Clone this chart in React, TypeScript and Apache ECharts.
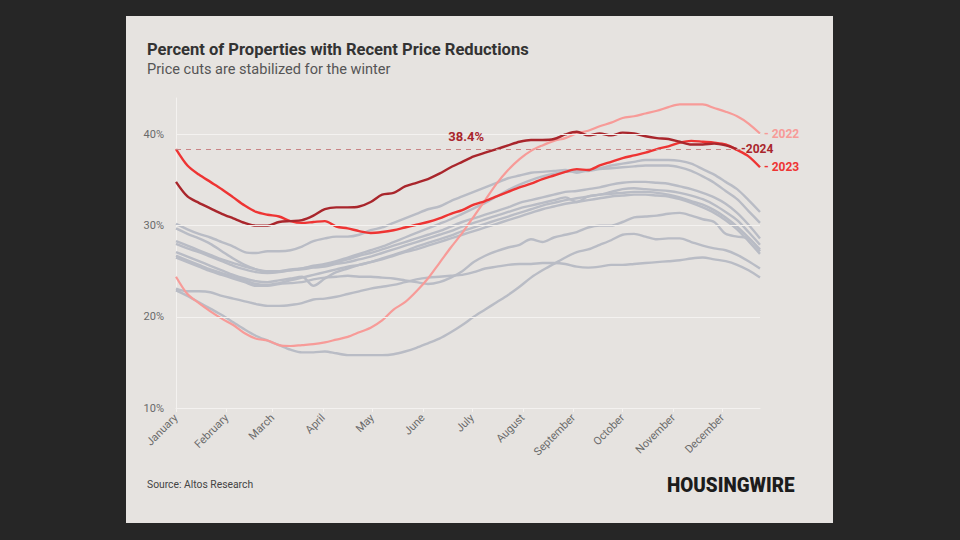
import React, { useEffect, useRef } from "react";
import * as echarts from "echarts";

const MONTHS = ["January", "February", "March", "April", "May", "June", "July", "August", "September", "October", "November", "December"];
const MONTH_START_DAYS = [1, 32, 60, 91, 121, 152, 182, 213, 244, 274, 305, 335];
const Y_TICKS = [10, 20, 30, 40];
const REFERENCE_VALUE = 38.4;

// weekly values (week 0 = Jan 1)
const SERIES_2022 = [24.4, 22.5, 21.5, 20.6, 19.8, 19.1, 18.2, 17.6, 17.4, 16.9, 16.8, 16.9, 17.0, 17.2, 17.5, 17.8, 18.3, 18.8, 19.6, 20.8, 21.6, 22.8, 24.2, 25.9, 27.6, 29.2, 31.0, 32.8, 34.6, 36.1, 37.3, 38.2, 38.8, 39.3, 39.6, 40.1, 40.4, 40.9, 41.3, 41.8, 42.0, 42.3, 42.6, 43.0, 43.3, 43.3, 43.3, 42.9, 42.5, 42.0, 41.2, 40.1];
const SERIES_2023 = [38.4, 36.6, 35.6, 34.8, 34.0, 33.1, 32.2, 31.5, 31.2, 31.0, 30.5, 30.3, 30.4, 30.5, 29.9, 29.7, 29.4, 29.2, 29.3, 29.5, 29.8, 30.1, 30.4, 30.8, 31.3, 31.7, 32.3, 32.7, 33.2, 33.7, 34.2, 34.6, 35.1, 35.5, 35.9, 36.2, 36.1, 36.6, 37.0, 37.4, 37.7, 38.0, 38.4, 38.7, 39.1, 39.3, 39.2, 39.1, 38.9, 38.3, 37.6, 36.4];
const SERIES_2024 = [34.8, 33.2, 32.5, 31.9, 31.3, 30.8, 30.3, 30.0, 30.0, 30.4, 30.5, 30.6, 31.1, 31.8, 32.0, 32.0, 32.1, 32.6, 33.4, 33.6, 34.3, 34.7, 35.1, 35.7, 36.4, 37.0, 37.6, 38.0, 38.4, 38.8, 39.2, 39.4, 39.4, 39.5, 40.0, 40.3, 39.9, 40.1, 39.9, 40.2, 40.1, 39.8, 39.6, 39.5, 39.2, 38.9, 38.9, 39.0, 38.8, 38.4];

const OTHER_YEAR_A = [30.2, 29.6, 29.1, 28.7, 28.2, 27.7, 27.1, 27.0, 27.2, 27.2, 27.3, 27.7, 28.3, 28.6, 28.8, 28.8, 29.0, 29.5, 29.8, 30.3, 30.8, 31.3, 31.8, 32.1, 32.7, 33.2, 33.7, 34.2, 34.7, 35.2, 35.5, 35.8, 35.9, 36.0, 36.1, 35.8, 36.1, 36.3, 36.6, 36.8, 37.0, 37.2, 37.2, 37.2, 37.1, 36.8, 36.2, 35.6, 34.8, 34.0, 32.8, 31.5];
const OTHER_YEAR_B = [29.7, 29.1, 28.6, 28.0, 27.2, 26.4, 25.7, 25.2, 24.9, 25.0, 25.1, 25.3, 25.6, 25.8, 26.1, 26.5, 26.9, 27.3, 27.7, 28.2, 28.7, 29.2, 29.7, 30.2, 30.7, 31.3, 31.9, 32.5, 33.2, 33.9, 34.5, 35.0, 35.4, 35.7, 35.9, 36.0, 36.0, 36.2, 36.3, 36.4, 36.5, 36.6, 36.6, 36.6, 36.4, 36.0, 35.4, 34.7, 33.8, 32.9, 31.6, 30.3];
const OTHER_YEAR_C = [28.3, 27.8, 27.3, 26.8, 26.3, 25.9, 25.5, 25.2, 25.0, 25.0, 25.2, 25.3, 25.5, 25.7, 26.0, 26.3, 26.7, 27.0, 27.4, 27.8, 28.2, 28.6, 29.0, 29.4, 29.9, 30.4, 30.8, 31.2, 31.6, 32.0, 32.5, 32.8, 33.1, 33.4, 33.7, 33.8, 34.0, 34.2, 34.5, 34.7, 34.8, 34.8, 34.7, 34.6, 34.3, 34.0, 33.6, 33.1, 32.4, 31.4, 30.1, 28.6];
const OTHER_YEAR_D = [28.0, 27.5, 27.1, 26.6, 26.1, 25.6, 25.2, 24.9, 24.8, 24.9, 25.1, 25.2, 25.4, 25.5, 25.8, 26.0, 26.3, 26.6, 27.0, 27.4, 27.8, 28.2, 28.6, 29.0, 29.4, 29.9, 30.3, 30.7, 31.1, 31.5, 31.9, 32.2, 32.5, 32.8, 33.1, 32.6, 33.2, 33.4, 33.7, 34.0, 34.1, 34.0, 33.9, 33.8, 33.6, 33.3, 32.9, 32.3, 31.5, 30.6, 29.3, 27.9];
const OTHER_YEAR_E = [27.1, 26.6, 26.1, 25.6, 25.1, 24.6, 24.2, 23.9, 23.8, 24.0, 24.2, 24.4, 23.4, 24.2, 24.9, 25.3, 25.7, 26.0, 26.4, 26.8, 27.2, 27.7, 28.1, 28.5, 28.9, 29.4, 29.8, 30.2, 30.6, 31.0, 31.4, 31.8, 32.2, 32.5, 32.8, 33.0, 33.2, 33.4, 33.5, 33.6, 33.7, 33.7, 33.6, 33.4, 33.1, 32.7, 32.3, 31.7, 30.9, 29.9, 28.7, 27.4];
const OTHER_YEAR_F = [26.7, 26.2, 25.7, 25.2, 24.8, 24.4, 24.0, 23.6, 23.5, 23.7, 24.0, 24.3, 24.6, 24.9, 25.2, 25.5, 25.7, 26.0, 26.3, 26.7, 27.1, 27.4, 27.8, 28.2, 28.6, 29.0, 29.4, 29.8, 30.2, 30.6, 31.0, 31.4, 31.8, 32.1, 32.4, 32.6, 32.8, 33.0, 33.2, 33.3, 33.4, 33.4, 33.3, 33.2, 32.9, 32.5, 32.0, 31.4, 30.6, 29.6, 28.3, 26.9];
const OTHER_YEAR_G = [26.5, 26.0, 25.5, 25.0, 24.6, 24.2, 23.8, 23.4, 23.4, 23.6, 23.7, 23.8, 24.1, 24.3, 24.4, 24.5, 24.4, 24.4, 24.3, 24.2, 24.0, 23.8, 23.6, 23.8, 24.3, 25.0, 26.0, 26.7, 27.2, 27.6, 27.9, 28.5, 28.2, 28.7, 29.0, 29.3, 29.8, 30.0, 30.0, 30.4, 30.9, 31.0, 31.1, 31.3, 31.4, 31.1, 30.7, 30.4, 29.1, 28.8, 28.6, 27.2];
const OTHER_YEAR_H = [22.9, 22.3, 21.6, 20.9, 20.2, 19.4, 18.6, 17.9, 17.4, 16.9, 16.4, 16.1, 16.1, 16.2, 16.0, 15.8, 15.8, 15.8, 15.8, 15.9, 16.2, 16.6, 17.1, 17.6, 18.3, 19.1, 20.0, 20.8, 21.6, 22.4, 23.3, 24.3, 25.1, 25.8, 26.5, 27.1, 27.4, 27.9, 28.4, 29.0, 29.1, 28.8, 28.5, 28.6, 28.6, 28.2, 27.8, 27.5, 27.3, 26.8, 26.1, 25.3];
const OTHER_YEAR_I = [23.1, 22.8, 22.8, 22.7, 22.3, 22.0, 21.7, 21.4, 21.2, 21.2, 21.3, 21.5, 21.9, 22.0, 22.2, 22.5, 22.8, 23.1, 23.3, 23.5, 23.8, 24.1, 24.3, 24.4, 24.5, 24.6, 24.9, 25.3, 25.5, 25.7, 25.8, 25.8, 25.9, 25.9, 25.8, 25.5, 25.4, 25.5, 25.7, 25.7, 25.8, 25.9, 26.0, 26.1, 26.2, 26.4, 26.5, 26.3, 26.1, 25.7, 25.1, 24.3];

const OTHER_YEARS = [OTHER_YEAR_A, OTHER_YEAR_B, OTHER_YEAR_C, OTHER_YEAR_D, OTHER_YEAR_E, OTHER_YEAR_F, OTHER_YEAR_G, OTHER_YEAR_H, OTHER_YEAR_I];

const FONT = '"Roboto", "Liberation Sans", sans-serif';
const GRAY = "#b9bcc5";
const C2022 = "#f79b98";
const C2023 = "#ee3433";
const C2024 = "#a9262c";
const GRID_COLOR = "#f4f2f0";

// each weekly sample's day of year
const toPoints = (vals: number[]) => vals.map((v, i) => [1 + 7 * i, v]);

export default function App() {
  const ref = useRef<HTMLDivElement>(null);
  useEffect(() => {
    if (!ref.current) return;
    const chart = echarts.init(ref.current, undefined, { renderer: "svg" });
    const grayLines = OTHER_YEARS.map((vals, k) => ({
      name: "other" + k,
      type: "line",
      data: toPoints(vals),
      showSymbol: false,
      smooth: 0.3,
      lineStyle: { color: GRAY, width: 2.4 },
      z: 2,
    }));
    const highlight = (name: string, vals: number[], color: string, label: string, width: number, extra: any = {}) => ({
      name,
      type: "line",
      data: toPoints(vals),
      showSymbol: false,
      smooth: 0.3,
      lineStyle: { color, width },
      z: 3,
      endLabel: {
        show: true,
        formatter: label,
        color,
        fontFamily: FONT,
        fontWeight: "bold",
        fontSize: 12,
        distance: 4,
      },
      ...extra,
    });
    chart.setOption({
      animation: false,
      backgroundColor: "#e6e3e0",
      textStyle: { fontFamily: FONT },
      grid: { left: 50, right: 73, top: 82, bottom: 115 },
      xAxis: {
        type: "value",
        min: 1,
        max: 358,
        axisLine: { show: true, lineStyle: { color: GRID_COLOR, width: 1 } },
        axisTick: { show: true, customValues: MONTH_START_DAYS, length: 4, lineStyle: { color: GRID_COLOR } },
        splitLine: { show: false },
        axisLabel: {
          customValues: MONTH_START_DAYS,
          formatter: (v: number) => MONTHS[MONTH_START_DAYS.indexOf(v)] ?? "",
          rotate: 45,
          color: "#6a6a6a",
          fontSize: 11,
          fontFamily: FONT,
          margin: 8,
        },
      },
      yAxis: {
        type: "value",
        min: 10,
        max: 44,
        interval: 10,
        axisLine: { show: true, lineStyle: { color: GRID_COLOR } },
        axisTick: { show: false },
        splitLine: { show: false },
        axisLabel: {
          formatter: (v: number) => (Y_TICKS.includes(v) ? v + "%" : ""),
          color: "#6a6a6a",
          fontSize: 11,
          fontFamily: FONT,
          margin: 12,
        },
      },
      series: [
        {
          name: "gridlines",
          type: "line",
          data: [],
          z: 1,
          markLine: {
            silent: true,
            symbol: "none",
            label: { show: false },
            lineStyle: { color: GRID_COLOR, type: "solid", width: 1 },
            data: Y_TICKS.slice(1).map((v) => ({ yAxis: v })),
          },
        },
        ...grayLines,
        highlight("2022", SERIES_2022, C2022, "- 2022", 2.2),
        highlight("2023", SERIES_2023, C2023, "- 2023", 2.4),
        highlight("2024", SERIES_2024, C2024, "-2024", 2.4, {
          markLine: {
            silent: true,
            symbol: "none",
            lineStyle: { color: "#c98485", type: [5, 5], width: 1 },
            label: {
              show: true,
              position: "middle",
              formatter: REFERENCE_VALUE.toFixed(1) + "%",
              color: C2024,
              fontWeight: "bold",
              fontSize: 13,
              fontFamily: FONT,
              distance: 6,
              padding: [0, 0, 0, 16],
            },
            data: [[{ coord: [1, REFERENCE_VALUE] }, { coord: [346, REFERENCE_VALUE] }]],
          },
        }),
      ],
      graphic: [
        {
          type: "text",
          x: 21,
          y: 24,
          scaleX: 0.975,
          style: { text: "Percent of Properties with Recent Price Reductions", fill: "#333", font: `bold 17px ${FONT}`, textVerticalAlign: "top" },
        },
        {
          type: "text",
          x: 21,
          y: 45,
          scaleX: 0.97,
          style: { text: "Price cuts are stabilized for the winter", fill: "#555", font: `15px ${FONT}`, textVerticalAlign: "top" },
        },
        {
          type: "text",
          x: 21,
          y: 463,
          scaleX: 0.94,
          style: { text: "Source: Altos Research", fill: "#444", font: `11px ${FONT}`, textVerticalAlign: "top" },
        },
        {
          type: "text",
          x: 541,
          y: 458,
          scaleX: 0.9,
          style: { text: "HOUSINGWIRE", fill: "#1c1c1c", font: `900 21px ${FONT}`, textVerticalAlign: "top" },
        },
      ],
    });
    return () => chart.dispose();
  }, []);
  return (
    <div style={{ position: "fixed", left: 0, top: 0, width: 960, height: 540, background: "#262626" }}>
      <div ref={ref} style={{ position: "absolute", left: 126, top: 16, width: 707, height: 507 }} />
    </div>
  );
}
